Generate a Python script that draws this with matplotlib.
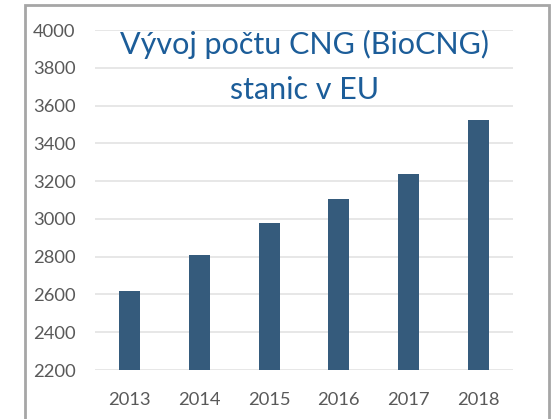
import matplotlib
matplotlib.use("Agg")
import matplotlib.pyplot as plt
from matplotlib.patches import Rectangle

## Data
years = ['2013', '2014', '2015', '2016', '2017', '2018']
stations = [2620, 2807, 2976, 3105, 3237, 3523]
y_ticks = [2200, 2400, 2600, 2800, 3000, 3200, 3400, 3600, 3800, 4000]

title_lines = ['Vývoj počtu CNG (BioCNG)', 'stanic v EU']

plt.rcParams['font.family'] = ['Lato', 'DejaVu Sans']

fig = plt.figure(figsize=(5.56, 4.19), dpi=100)
ax = fig.add_axes([95 / 556, 1 - 370 / 419, 418 / 556, 340 / 419])

## Bars
x = range(len(years))
ax.bar(x, stations, width=0.3, color='#355B7C', zorder=3)

ax.set_xlim(-0.5, len(years) - 0.5)
ax.set_ylim(2200, 4000)
ax.set_yticks(y_ticks)
ax.set_xticks(list(x))
ax.set_xticklabels(years)

## Light grid, no frame
ax.grid(axis='y', color='#e3e3e3', linewidth=1.2, zorder=0)
for s in ax.spines.values():
    s.set_visible(False)
ax.tick_params(axis='both', length=0, labelsize=13.2, colors='#595959')
ax.tick_params(axis='y', pad=14)
ax.tick_params(axis='x', pad=16)

## Title inside the chart, two lines placed by baseline
fig.text(305 / 556, 1 - 54 / 419, title_lines[0], ha='center', va='baseline',
         fontsize=22, color='#1c5d99')
fig.text(305 / 556, 1 - 99 / 419, title_lines[1], ha='center', va='baseline',
         fontsize=22, color='#1c5d99')

## Gray slide-object border
fig.patches.append(Rectangle((25 / 556, -0.05), 524 / 556, 1.05 - 5 / 419,
                             transform=fig.transFigure, fill=False,
                             edgecolor='#a6a6a6', linewidth=2))

fig.savefig('out.png', dpi=100)
